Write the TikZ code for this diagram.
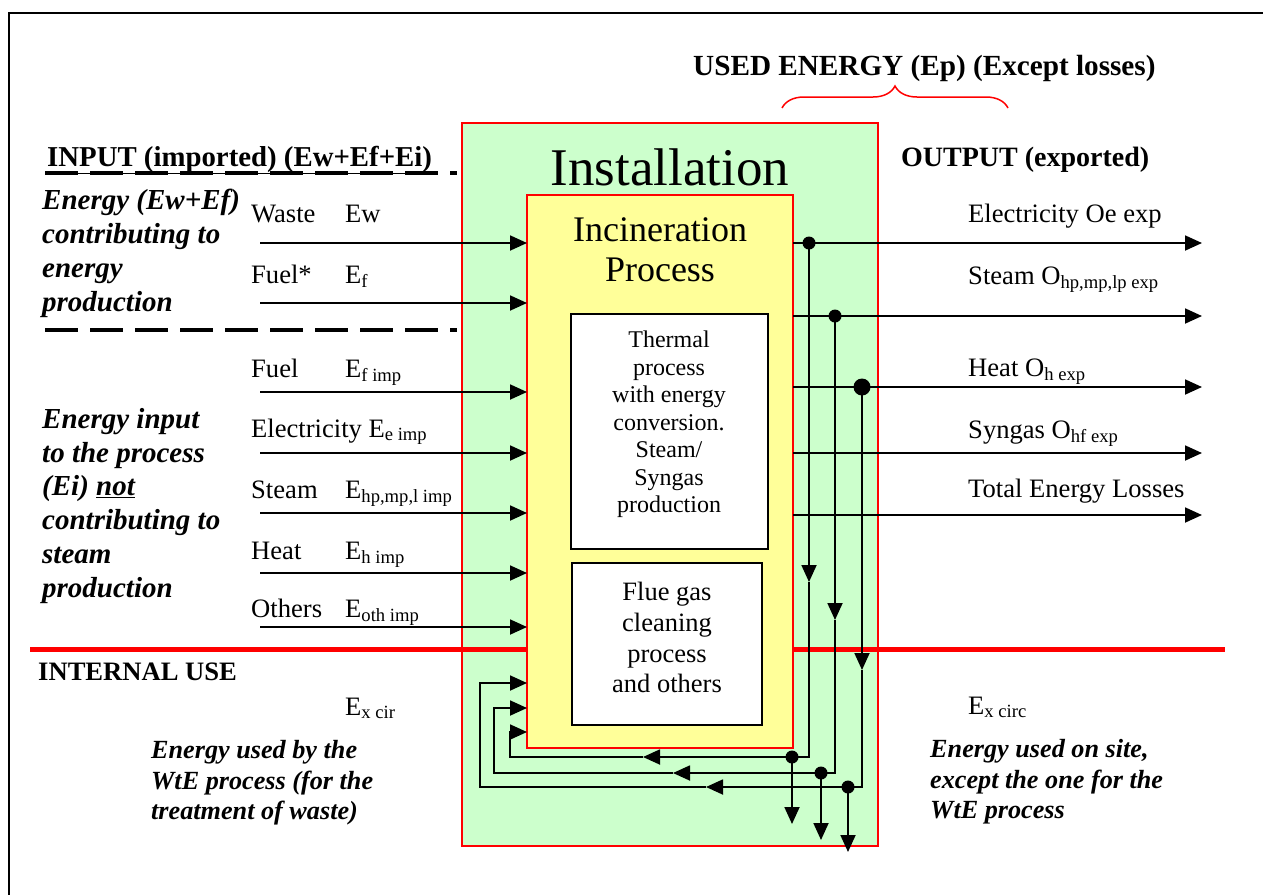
\documentclass[tikz,border=0pt]{standalone}
\usepackage{fontspec}
\setmainfont{Liberation Serif}
\usetikzlibrary{arrows.meta,decorations.pathreplacing}
\definecolor{instgreen}{HTML}{CCFFCC}
\definecolor{procyellow}{HTML}{FFFF99}
\definecolor{redln}{HTML}{FF0000}
\begin{document}
\begin{tikzpicture}[x=1pt,y=-1pt,
  box/.style={draw=redln, line width=1.5pt, inner sep=0, outer sep=0},
  wbox/.style={draw=black, fill=white, line width=1.5pt, inner sep=0, outer sep=0},
  lbl/.style={font=\fontsize{26.6}{30}\selectfont, anchor=base west, inner sep=0},
  hdg/.style={font=\bfseries\fontsize{28}{32}\selectfont, anchor=base west, inner sep=0},
  desc/.style={font=\bfseries\itshape\fontsize{29}{33.8}\selectfont, anchor=north west, align=left, inner sep=0},
  bdesc/.style={font=\bfseries\itshape\fontsize{26.2}{30.7}\selectfont, anchor=north west, align=left, inner sep=0},
  arr/.style={line width=1.8pt, -{Triangle[length=17pt,width=15pt]}},
  dot/.style={circle, fill=black, inner sep=0, minimum size=13pt},
  dashln/.style={line width=3.5pt, dash pattern=on 33pt off 12pt},
  redthick/.style={draw=redln, line width=5pt}
]
\useasboundingbox (0,0) rectangle (1263,895);
% frame
\coordinate (fTR) at (1263,13);
\coordinate (fTL) at (9,13);
\coordinate (fBL) at (9,895);
\draw[line width=2.5pt] (fTR) -- (fTL) -- (fBL);

% boxes
\node[box, fill=instgreen, minimum width=416pt, minimum height=723pt] (inst) at (670,484.5) {};
\node[box, fill=procyellow, minimum width=266pt, minimum height=553pt] (proc) at (660,471.5) {};
\node[wbox, minimum width=197pt, minimum height=235pt] (therm) at (669.5,431.5) {};
\node[wbox, minimum width=190pt, minimum height=162pt] (flue) at (667,644) {};

% box texts
\node[font=\fontsize{53}{60}\selectfont, anchor=base, inner sep=0] (tinst) at (670,185) {Installation};
\node[font=\fontsize{36}{40}\selectfont, align=center, anchor=north, inner sep=0] (tproc) at (660,217) {Incineration\\Process};
\node[font=\fontsize{24}{27.5}\selectfont, align=center, anchor=north, inner sep=0] (ttherm) at (669,331) {Thermal\\process\\with energy\\conversion.\\Steam/\\Syngas\\production};
\node[font=\fontsize{26.5}{30.7}\selectfont, align=center, anchor=north, inner sep=0] (tflue) at (667,582) {Flue gas\\cleaning\\process\\and others};

% headings
\node[hdg, font=\bfseries\fontsize{29.2}{32}\selectfont] (used) at (693,75) {USED ENERGY (Ep) (Except losses)};
\node[hdg, font=\bfseries\fontsize{28.8}{32}\selectfont] (inhd) at (47,166) {\underline{INPUT (imported) (Ew+Ef+Ei)}};
\node[hdg] (outhd) at (901,166) {OUTPUT (exported)};
\node[hdg, font=\bfseries\fontsize{26.6}{30}\selectfont] (intuse) at (38,680) {INTERNAL USE};

% brace
\coordinate (bL) at (782,108);
\coordinate (bR) at (1008,108);
\draw[redln, line width=1.5pt, decorate, decoration={brace, amplitude=22pt}] (bL) -- (bR);

% dashed separators
\coordinate (dA1) at (45,173); \coordinate (dA2) at (457,173);
\coordinate (dB1) at (45,330); \coordinate (dB2) at (457,330);
\draw[dashln] (dA1) -- (dA2);
\draw[dashln] (dB1) -- (dB2);

% red internal-use line
\coordinate (rl) at (30,649);
\coordinate (rr) at (1225,649);
\draw[redthick] (rl) -- (rl -| proc.west);
\draw[redthick] (rr -| proc.east) -- (rr);

% left descriptions
\node[desc] (d1) at (42,189) {Energy (Ew+Ef)\\contributing to\\energy\\production};
\node[desc] (d2) at (42,408) {Energy input\\to the process\\(Ei) \underline{not}\\contributing to\\steam\\production};

% input labels
\node[lbl] (wst) at (251,222) {Waste};
\node[lbl] (wstE) at (345,222) {Ew};
\node[lbl] (fl1) at (251,283) {Fuel*};
\node[lbl] (fl1E) at (345,283) {E\textsubscript{f}};
\node[lbl] (fl2) at (251,377) {Fuel};
\node[lbl] (fl2E) at (345,377) {E\textsubscript{f imp}};
\node[lbl] (el) at (251,437) {Electricity E\textsubscript{e imp}};
\node[lbl] (st) at (251,498) {Steam};
\node[lbl] (stE) at (345,498) {E\textsubscript{hp,mp,l imp}};
\node[lbl] (ht) at (251,559) {Heat};
\node[lbl] (htE) at (345,559) {E\textsubscript{h imp}};
\node[lbl] (ot) at (251,617) {Others};
\node[lbl] (otE) at (345,617) {E\textsubscript{oth imp}};

% input arrows
\foreach \n/\y in {1/243,2/303,3/392,4/453,5/513,6/573,7/627}{
  \coordinate (i\n) at (260,\y);
  \draw[arr] (i\n) -- (i\n -| proc.west);
}

% output labels
\node[lbl] (oel) at (968,222) {Electricity Oe exp};
\node[lbl] (ost) at (968,284) {Steam O\textsubscript{hp,mp,lp exp}};
\node[lbl] (oht) at (968,376) {Heat O\textsubscript{h exp}};
\node[lbl] (osg) at (968,438) {Syngas O\textsubscript{hf exp}};
\node[lbl] (olo) at (968,497) {Total Energy Losses};

% output arrows
\foreach \n/\y in {1/243,2/316,3/387,4/453,5/515}{
  \coordinate (o\n) at (1202,\y);
  \draw[arr] (o\n -| proc.east) -- (o\n);
}

% junction dots on outputs
\node[dot] (j1) at (809,243) {};
\node[dot] (j2) at (835,316) {};
\node[dot, minimum size=17pt] (j3) at (862,387) {};

% internal circulation loops
\coordinate (a1) at (809,582); \coordinate (c1) at (809,757); \coordinate (m1) at (643,757);
\coordinate (l1) at (510,757); \coordinate (u1) at (510,732);
\coordinate (a2) at (835,620); \coordinate (c2) at (835,773); \coordinate (m2) at (673,773);
\coordinate (l2) at (494,773); \coordinate (u2) at (494,708);
\coordinate (a3) at (862,670); \coordinate (c3) at (862,787); \coordinate (m3) at (706,787);
\coordinate (l3) at (480,787); \coordinate (u3) at (480,683);
\foreach \n in {1,2,3}{
  \draw[arr] (j\n.center) -- (a\n);
  \draw[arr] (a\n) -- (c\n) -- (m\n);
  \draw[arr] (m\n) -- (l\n) -- (u\n) -- (u\n -| proc.west);
}

% dots on loops and on-site use arrows
\node[dot] (k1) at (792,757) {};
\node[dot] (k2) at (821,773) {};
\node[dot] (k3) at (848,787) {};
\coordinate (e1) at (792,824);
\coordinate (e2) at (821,840);
\coordinate (e3) at (848,852);
\foreach \n in {1,2,3}{
  \draw[arr] (k\n.center) -- (e\n);
}

% internal use labels
\node[lbl] (exl) at (345,715) {E\textsubscript{x cir}};
\node[lbl] (exr) at (968,714) {E\textsubscript{x circ}};
\node[bdesc] (bl) at (151,740) {Energy used by the\\WtE process (for the\\treatment of waste)};
\node[bdesc] (br) at (930,739) {Energy used on site,\\except the one for the\\WtE process};
\end{tikzpicture}
\end{document}
